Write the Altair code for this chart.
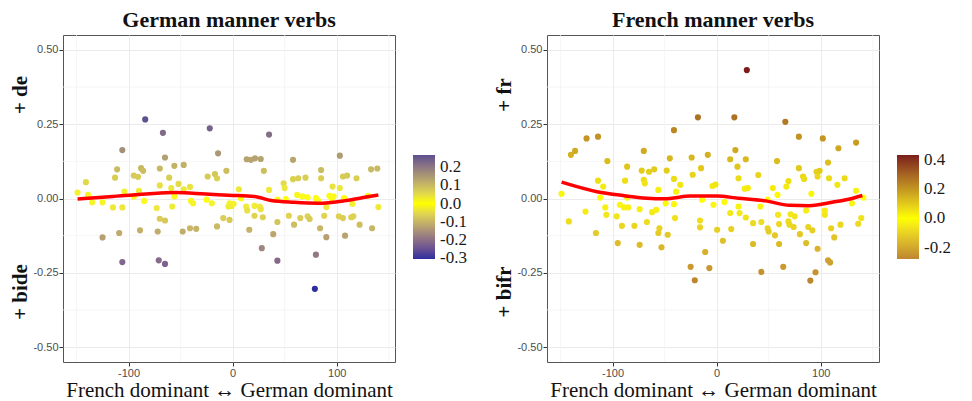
import altair as alt
import pandas as pd

# ---------------- data ----------------
de_x = [-84, -67, -22, -106, -14, -65, -111, -113, -88, -86, -95, -91, -70, -56, -47, -61, -70, -24, -17, -15,
        -6, -141, -149, -139, -135, -125, -115, -106, -104, -95, -90, -85, -73, -59, -56, -58, -52, -47, -41, -40,
        -38, -25, -20, -4, -70, -65, -9, -3, -15, -125, -109, -89, -72, -48, -41, -35, -106, -71, -65,
        35, 13.5, 17.6, 21.5, 27, 30, 58, 103, 85, 85, 58, 63, 70, 106, 110, 119, 133, 139, 49, 50,
        35, 6, 96, 103, -3, -1, 1, 8, 13, 14, 21, 26, 27, 43, 51, 62, 67, 72, 80, 82,
        90, 93, 95, 97, 107, 115, 130, 140, 21, 29, 54, 65, 72, 74, 88, 102, 106, 114, 116, 16,
        43, 59, 39, 84, 90, 108, 122, 134, 28, 43, 80, 79]
de_y = [0.266, 0.221, 0.236, 0.163, 0.152, 0.138, 0.098, 0.070, 0.102, 0.093, 0.077, 0.073, 0.101, 0.110, 0.113,
        0.070, 0.044, 0.074, 0.082, 0.068, 0.093, 0.055, 0.020, 0.012, -0.013, -0.013, -0.030, -0.030, 0.023,
        0.007, 0.026, -0.008, -0.032, 0.035, 0.007, -0.027, 0.049, 0.031, 0.039, -0.008, -0.016, -0.004, -0.016,
        -0.027, -0.068, -0.074, -0.066, -0.072, -0.094, -0.131, -0.116, -0.107, -0.111, -0.111, -0.100, -0.102,
        -0.214, -0.208, -0.220,
        0.215, 0.132, 0.130, 0.135, 0.133, 0.093, 0.130, 0.144, 0.096, 0.068, 0.065, 0.068, 0.070, 0.074, 0.077,
        0.068, 0.098, 0.101, 0.051, 0.035, 0.029, 0.031, 0.040, 0.035, -0.016, -0.025, -0.018, 0.001, -0.027,
        -0.040, -0.025, -0.027, -0.036, -0.004, -0.002, 0.012, 0.007, 0.004, 0.001, -0.007, -0.029, 0.009, 0.001,
        0.007, 0.001, -0.018, 0.009, -0.029, -0.058, -0.063, -0.058, -0.066, -0.060, -0.069, -0.058, -0.060,
        -0.066, -0.063, -0.060, -0.105, -0.079, -0.088, -0.120, -0.100, -0.130, -0.125, -0.088, -0.100, -0.167,
        -0.209, -0.189, -0.304]

fr_x = [-18, -41, -125, -114, -140, -136, -105, -70, -24, -8.5, -45, -86, -72, -65, -60, -48, -70, -69, -88, -114,
        -109, -41, -35, -23, -15, -56, -39, -149, -112, -86, -49, -41, -14, -3, -107, -93, -89, -85, -74, -126,
        -106, -96, -62, -58, -40, -142, -91, -79, -67, -16, -16, -55, -56, -47, -116, 0.5, -95, -74, -53, -11,
        -25, -7, -21,
        29, 17, 66, 79, 102, 117, 134, 18, 13, 28, 20, 58, 107, 79, 96, 99, 97, 21, 40, 83,
        84, 108, 123, 69, 67, 54, 27, 30, 116, -4, -1, 58.5, 91, 134, 141, 7.5, 21, 42, 49, 86,
        104, 104, 130, 13, 22, 28, 59, 71, 75, 69, 70, 60, 35, 43, 74, 49, 50, 14, 80, 88,
        92, 110, 119, 136, 139, 56, 113, 6, 35, 60, 86, 97, 107, 109, 64, 43, 95, 90]
fr_y = [0.273, 0.230, 0.202, 0.208, 0.147, 0.160, 0.126, 0.160, 0.138, 0.147, 0.135, 0.107, 0.094, 0.090, 0.098,
        0.094, 0.063, 0.051, 0.060, 0.060, 0.040, 0.066, 0.046, 0.080, 0.102, 0.029, 0.023, 0.016, 0.003, 0.003,
        -0.016, -0.019, -0.004, -0.021, -0.030, -0.021, -0.030, -0.030, -0.036, -0.044, -0.055, -0.060, -0.046,
        -0.038, -0.066, -0.077, -0.092, -0.092, -0.079, -0.074, -0.097, -0.100, -0.116, -0.122, -0.116, -0.105,
        -0.150, -0.156, -0.164, -0.180, -0.230, -0.234, -0.275,
        0.432, 0.273, 0.258, 0.208, 0.202, 0.169, 0.188, 0.163, 0.132, 0.132, 0.107, 0.126, 0.121, 0.102, 0.090,
        0.093, 0.074, 0.068, 0.079, 0.074, 0.066, 0.068, 0.068, 0.059, 0.040, 0.035, 0.033, 0.035, 0.046, 0.042,
        0.047, 0.012, 0.016, 0.026, 0.003, -0.012, -0.027, -0.027, -0.004, -0.040, -0.041, -0.055, -0.016, -0.049,
        -0.049, -0.064, -0.055, -0.053, -0.060, -0.077, -0.088, -0.086, -0.083, -0.079, -0.096, -0.100, -0.111,
        -0.103, -0.120, -0.096, -0.107, -0.100, -0.088, -0.085, -0.066, -0.124, -0.131, -0.142, -0.153, -0.153,
        -0.150, -0.169, -0.208, -0.215, -0.230, -0.247, -0.248, -0.276]

de_line_x = [-149, -115, -83, -55, -26, -4, 21, 37, 59, 82, 107, 127, 140]
de_line_y = [-0.002, 0.007, 0.015, 0.020, 0.015, 0.011, 0.007, -0.007, -0.013, -0.016, -0.008, 0.004, 0.012]
fr_line_x = [-149, -115, -90, -67, -50, -25, 0, 21, 47, 70, 89, 112, 131, 140]
fr_line_y = [0.055, 0.023, 0.010, 0.001, -0.001, 0.008, 0.008, 0.001, -0.008, -0.023, -0.024, -0.012, 0.001, 0.010]

x_ticks = [-100, 0, 100]
y_ticks = [-0.5, -0.25, 0.0, 0.25, 0.5]
x_minor = [-150, -50, 50, 150]
y_minor = [-0.375, -0.125, 0.125, 0.375]
de_legend_values = [-0.3, -0.2, -0.1, 0.0, 0.1, 0.2]
fr_legend_values = [-0.2, 0.0, 0.2, 0.4]

de_colors = ["#2e2e9e", "#ffff00", "#5f5090"]
fr_colors = ["#bf8630", "#ffff00", "#7b1c1c"]

W, H = 332, 327
SERIF = "Liberation Serif"


def panel(title, px, py, lx, ly, top_label, bottom_label, colors, legend_vals):
    pts = pd.DataFrame({"x": px, "y": py})
    ln = pd.DataFrame({"x": lx, "y": ly})
    xs = alt.Scale(domain=[-163, 156], nice=False, zero=False)
    ys = alt.Scale(domain=[-0.55, 0.55], nice=False, zero=False)
    xaxis = alt.Axis(values=x_ticks, title="French dominant \u2194 German dominant",
                     labelExpr="replace(format(datum.value, 'd'), '\u2212', '-')")
    yaxis = alt.Axis(values=y_ticks, title="",
                     labelExpr="replace(format(datum.value, '.2f'), '\u2212', '-')")

    minor_x = alt.Chart(pd.DataFrame({"v": x_minor})).mark_rule(
        color="#f2f2f2", strokeWidth=0.7).encode(x=alt.X("v:Q", scale=xs, axis=xaxis))
    minor_y = alt.Chart(pd.DataFrame({"v": y_minor})).mark_rule(
        color="#f2f2f2", strokeWidth=0.7).encode(y=alt.Y("v:Q", scale=ys, axis=yaxis))

    points = alt.Chart(pts).mark_circle(size=38, opacity=1).encode(
        x=alt.X("x:Q", scale=xs, axis=xaxis),
        y=alt.Y("y:Q", scale=ys, axis=yaxis),
        color=alt.Color("y:Q",
                        scale=alt.Scale(domain=[min(py), 0, max(py)], range=colors, interpolate="lab"),
                        legend=alt.Legend(title="", orient="none", legendX=350, legendY=120,
                                          gradientLength=104, gradientThickness=22,
                                          values=legend_vals, labelFont=SERIF, labelFontSize=17,
                                          labelColor="#1a1a1a", labelOffset=5, labelOverlap=False,
                                          gradientStrokeWidth=0,
                                          labelExpr="replace(format(datum.value, '.1f'), '\u2212', '-')")),
    )
    line = alt.Chart(ln).mark_line(color="#ff0000", strokeWidth=3.5, interpolate="monotone").encode(
        x=alt.X("x:Q", scale=xs, axis=xaxis),
        y=alt.Y("y:Q", scale=ys, axis=yaxis),
    )
    t1 = alt.Chart(pd.DataFrame({"t": [top_label]})).mark_text(
        angle=270, font=SERIF, fontSize=21, fontWeight="bold", color="#111111",
        align="center", baseline="middle").encode(
        x=alt.value(-42), y=alt.value(60), text="t:N")
    t2 = alt.Chart(pd.DataFrame({"t": [bottom_label]})).mark_text(
        angle=270, font=SERIF, fontSize=21, fontWeight="bold", color="#111111",
        align="center", baseline="middle").encode(
        x=alt.value(-42), y=alt.value(257), text="t:N")

    return alt.layer(minor_x, minor_y, points, line, t1, t2).properties(
        width=W, height=H,
        title=alt.Title(title, font=SERIF, fontSize=22, fontWeight="bold", color="#111111",
                        anchor="middle", offset=3),
    )


left = panel("German manner verbs", de_x, de_y, de_line_x, de_line_y, "+ de", "+ bide",
             de_colors, de_legend_values)
right = panel("French manner verbs", fr_x, fr_y, fr_line_x, fr_line_y, "+ fr", "+ bifr",
              fr_colors, fr_legend_values)

chart = alt.hconcat(left, right, spacing=25).resolve_scale(color="independent").properties(
    padding={"left": 1, "top": 0, "right": 0, "bottom": 0}
).configure_view(stroke="#555555", strokeWidth=1).configure_axis(
    grid=True, gridColor="#ebebeb", gridWidth=1, domain=False,
    tickColor="#333333", tickSize=4, labelColor="#4d4d4d", labelFont="Liberation Sans",
    labelFontSize=11, labelPadding=1, titleFont=SERIF, titleFontSize=21, titleFontWeight="normal",
    titleColor="#111111", titlePadding=1,
)

chart.save("out.html", embed_options={"renderer": "svg", "actions": False})
